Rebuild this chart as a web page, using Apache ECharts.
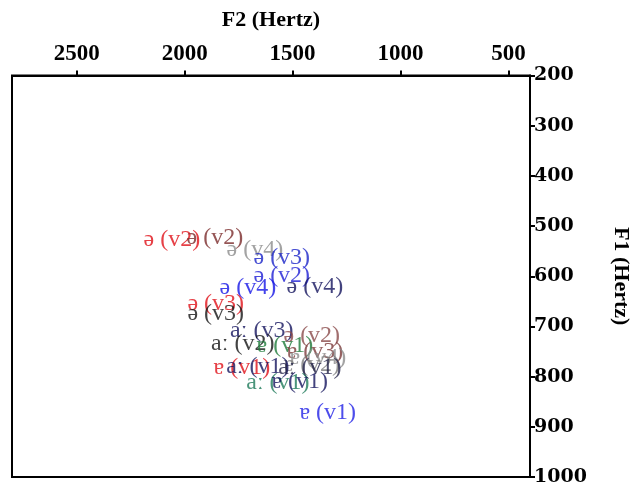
<!DOCTYPE html>
<html>
<head>
<meta charset="utf-8">
<script src="https://cdn.jsdelivr.net/npm/echarts@6/dist/echarts.min.js"></script>
<style>html,body{margin:0;padding:0;background:#fff}#c{width:632px;height:482px}</style>
</head>
<body>
<div id="c"></div>
<script>
// Vowel labels, F2 (Hz) and F1 (Hz)
const vowelLabels = [
  'ə (v2)', 'ə (v2)', 'ə (v4)', 'ə (v3)', 'ə (v2)', 'ə (v4)', 'ə (v4)',
  'ə (v3)', 'ə (v3)', 'aː (v3)', 'ə (v2)', 'aː (v2)', 'ɐ (v1)',
  'ɐ (v3)', 'ɐ (v4)', 'ɐ (v2)', 'ɐ (v1)', 'aː (v1)', 'aː (v1)',
  'aː (v1)', 'ɐ (v1)', 'ɐ (v1)'
];
const f2Values = [
  2059, 1860, 1675, 1550, 1550, 1707, 1397,
  1856, 1856, 1643, 1411, 1731, 1536,
  1397, 1383, 1411, 1735, 1661, 1420,
  1568, 1467, 1337
];
const f1Values = [
  528, 524, 548, 564, 599, 623, 621,
  655, 675, 709, 719, 735, 739,
  751, 763, 777, 783, 781, 783,
  813, 811, 872
];
const xTicks = [500, 1000, 1500, 2000, 2500];

// styling (kept separate from data)
const labelColors = [
  '#e01018', '#7a2a2a', '#8c8c8c', '#1a24c8', '#1e1ed4', '#1414e6', '#14145e',
  '#e01018', '#141414', '#14145e', '#8a4a4a', '#141414', '#1e7a3a',
  '#7a3a3a', '#8c8c8c', '#7c7c7c', '#e01018', '#14145e', '#24244a',
  '#1e7a5a', '#14145e', '#2020e6'
];

const chart = echarts.init(document.getElementById('c'));
const pts = f2Values.map((x, i) => ({
  value: [x, f1Values[i]],
  name: vowelLabels[i],
  label: { color: labelColors[i] }
}));

chart.setOption({
  animation: false,
  grid: {
    left: 12, right: 102, top: 75.5, bottom: 5,
    outerBoundsMode: 'none', containLabel: false,
    show: true, borderColor: '#000', borderWidth: 2, backgroundColor: '#fff'
  },
  xAxis: {
    type: 'value', position: 'top', inverse: true,
    min: 400, max: 2800,
    name: 'F2 (Hertz)', nameLocation: 'middle', nameGap: 44,
    nameTextStyle: { fontFamily: 'Liberation Serif', fontWeight: 'bold', fontSize: 22, color: '#000' },
    axisLine: { show: true, lineStyle: { color: '#000', width: 2 } },
    axisTick: { show: true, inside: false, length: 5, customValues: xTicks, lineStyle: { color: '#000', width: 2 } },
    axisLabel: {
      customValues: xTicks, margin: 10,
      formatter: v => String(v),
      fontFamily: 'Liberation Serif', fontWeight: 'bold', fontSize: 23, color: '#000'
    },
    splitLine: { show: false }
  },
  yAxis: {
    type: 'value', position: 'right', inverse: true,
    min: 200, max: 1000, interval: 100,
    name: 'F1 (Hertz)', nameLocation: 'middle', nameRotate: -90, nameGap: 80,
    nameTextStyle: { fontFamily: 'Liberation Serif', fontWeight: 'bold', fontSize: 22, color: '#000' },
    axisLine: { show: true, lineStyle: { color: '#000', width: 2 } },
    axisTick: { show: true, length: 5, lineStyle: { color: '#000', width: 2 } },
    axisLabel: {
      margin: 4, showMinLabel: true, showMaxLabel: true,
      formatter: v => String(v),
      fontFamily: 'DejaVu Serif', fontWeight: 'bold', fontSize: 19, color: '#000'
    },
    splitLine: { show: false }
  },
  series: [{
    type: 'scatter',
    symbolSize: 0,
    data: pts,
    label: {
      show: true, position: 'inside',
      formatter: p => p.name,
      fontFamily: 'Liberation Serif', fontSize: 24
    }
  }]
});
</script>
</body>
</html>
